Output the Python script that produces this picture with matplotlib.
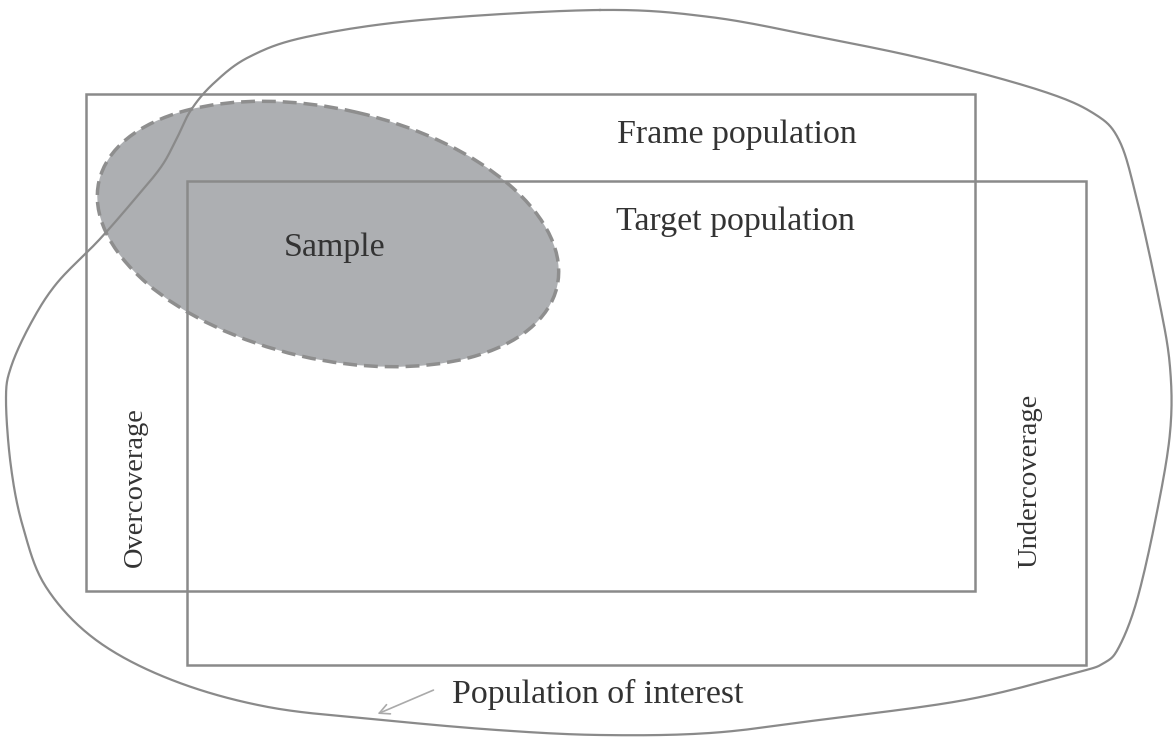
import numpy as np
import matplotlib
matplotlib.use("Agg")
import matplotlib.pyplot as plt
from matplotlib.patches import Rectangle, Ellipse

# shapes in picture pixels (x right, y down)
frame_box = [86, 94, 975, 591]      # x0, y0, x1, y1
target_box = [187, 181, 1086, 665]
sample_center = [328, 234]
sample_axes = [470, 250]            # width, height
sample_angle = 13

blob_x = [600, 710, 819, 929, 1039, 1093, 1119, 1137, 1159, 1170, 1170, 1156,
          1137, 1119, 1104, 1075, 965, 819, 710, 600, 497, 383, 268, 172, 96,
          46, 23, 11, 6, 11, 31, 57, 99, 134, 161, 176, 191, 214, 249, 306, 421]
blob_y = [10, 17, 37, 60, 90, 113, 140, 200, 300, 367, 433, 517,
          600, 647, 663, 673, 700, 720, 733, 735, 730, 720, 707, 680, 640,
          587, 527, 467, 400, 367, 323, 283, 240, 200, 167, 140, 110, 83, 57, 37, 20]

labels = ["Frame population", "Target population", "Sample", "Population of interest"]
label_pos = [(617, 143), (616, 230), (284, 256), (452, 703)]
side_labels = ["Overcoverage", "Undercoverage"]
side_pos = [(135, 487), (1030, 481)]


def catmull_rom(xs, ys, n=20):
    # smooth closed curve through the control points
    p = np.column_stack([xs, ys]).astype(float)
    out = []
    m = len(p)
    t = np.linspace(0, 1, n, endpoint=False)[:, None]
    for i in range(m):
        p0, p1, p2, p3 = p[i - 1], p[i], p[(i + 1) % m], p[(i + 2) % m]
        seg = 0.5 * ((2 * p1) + (-p0 + p2) * t + (2 * p0 - 5 * p1 + 4 * p2 - p3) * t ** 2
                     + (-p0 + 3 * p1 - 3 * p2 + p3) * t ** 3)
        out.append(seg)
    out = np.vstack(out)
    return np.vstack([out, out[:1]])


fig = plt.figure(figsize=(11.73, 7.40), dpi=100)
ax = fig.add_axes([0, 0, 1, 1])
ax.set_xlim(0, 1173)
ax.set_ylim(740, 0)
ax.axis("off")

line_col = "#8a8a8a"
text_col = "#333333"

# sample ellipse
ax.add_patch(Ellipse(sample_center, sample_axes[0], sample_axes[1], angle=sample_angle,
                     facecolor="#adafb2", edgecolor="#8e8e8e", lw=2.5,
                     linestyle=(0, (4, 2)), zorder=1))

# boxes
for b in [frame_box, target_box]:
    ax.add_patch(Rectangle((b[0], b[1]), b[2] - b[0], b[3] - b[1], fill=False,
                           edgecolor=line_col, lw=1.8, zorder=2))

# population of interest outline
curve = catmull_rom(blob_x, blob_y)
ax.plot(curve[:, 0], curve[:, 1], color=line_col, lw=1.6, zorder=2)

font = "Liberation Serif"
for s, (x, y) in zip(labels, label_pos):
    ax.text(x, y, s, ha="left", va="baseline", fontsize=24.4, family=font,
            color=text_col, zorder=3)
for s, (x, y) in zip(side_labels, side_pos):
    ax.text(x, y, s, ha="center", va="center", rotation=90, fontsize=20.5,
            family=font, color=text_col, zorder=3)

ax.annotate("", xy=(375, 715), xytext=(436, 689),
            arrowprops=dict(arrowstyle="->", color="#aaaaaa", lw=1.2,
                            mutation_scale=18))

fig.savefig("out.png", dpi=100, facecolor="white")
